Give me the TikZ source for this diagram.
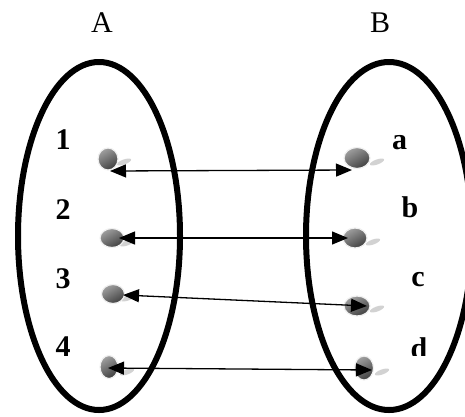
\documentclass[tikz,border=0pt]{standalone}
\usepackage{fontspec}
\setmainfont{Liberation Serif}
\usetikzlibrary{arrows.meta,shapes.geometric}
\begin{document}
\begin{tikzpicture}[x=1pt,y=-1pt,
  setring/.style={draw=black,line width=6pt},
  lbl/.style={inner sep=0pt,font=\fontsize{30}{36}\selectfont\bfseries},
  title/.style={inner sep=0pt,font=\fontsize{30}{36}\selectfont},
  dot/.style={ellipse,inner sep=0pt,draw=gray!12,line width=1.2pt,
    shading=axis,top color=gray!75,bottom color=black!75,shading angle=30},
  shad/.style={ellipse,inner sep=0pt,minimum width=15pt,minimum height=5pt,
    fill=gray!35,rotate=20},
  link/.style={line width=1.3pt,{Triangle[length=16pt,width=13pt]}-{Triangle[length=16pt,width=13pt]}}
]
\useasboundingbox (0,0) rectangle (465,416);
\clip (0,0) rectangle (465,416);
% sets
\node[title] (A) at (102,23) {A};
\node[title] (B) at (380,23) {B};
\draw[setring] (99,236) ellipse [x radius=81, y radius=174];
\draw[setring] (389,236) ellipse [x radius=83, y radius=174];
% labels
\node[lbl] (n1) at (63,140) {1};
\node[lbl] (n2) at (63,210) {2};
\node[lbl] (n3) at (63,279) {3};
\node[lbl] (n4) at (63,347) {4};
\node[lbl] (la) at (399.5,142.5) {a};
\node[lbl] (lb) at (410,207.5) {b};
\node[lbl] (lc) at (418,280) {c};
\begin{scope}
  \clip (400,330) rectangle (440,355.5);
  \node[lbl,anchor=north] (ld) at (419,337) {d};
\end{scope}
% shadows
\node[shad] (s1) at (124,162) {};
\node[shad] (s2) at (127,243) {};
\node[shad] (s3) at (128,298) {};
\node[shad] (s4) at (127,372) {};
\node[shad] (sa) at (377,162) {};
\node[shad] (sb) at (373,242) {};
\node[shad] (sc) at (377,309) {};
\node[shad] (sd) at (382,372) {};
% dots
\node[dot,minimum width=20pt,minimum height=22pt] (d1) at (108,159) {};
\node[dot,minimum width=24pt,minimum height=19pt] (d2) at (112,238) {};
\node[dot,minimum width=23pt,minimum height=19pt] (d3) at (113,294) {};
\node[dot,minimum width=18pt,minimum height=23pt] (d4) at (109,367) {};
\node[dot,minimum width=26pt,minimum height=21pt] (da) at (357,158) {};
\node[dot,minimum width=24pt,minimum height=20pt] (db) at (355,238) {};
\node[dot,minimum width=26pt,minimum height=20pt] (dc) at (357,306) {};
\node[dot,minimum width=19pt,minimum height=24pt] (dd) at (364,368) {};
% arrow ends
\coordinate (e1) at ([shift={(2,12)}]d1.center);
\coordinate (ea) at ([shift={(-5,12)}]da.center);
\coordinate (e2) at ([shift={(7,0)}]d2.center);
\coordinate (eb) at ([shift={(-7,0)}]db.center);
\coordinate (e3) at ([shift={(10,1)}]d3.center);
\coordinate (ec) at ([shift={(10,0)}]dc.center);
\coordinate (e4) at ([shift={(-1,1)}]d4.center);
\coordinate (ed) at ([shift={(8,2)}]dd.center);
% connectors
\draw[link] (e1) -- (ea);
\draw[link] (e2) -- (eb);
\draw[link] (e3) -- (ec);
\draw[link] (e4) -- (ed);
\end{tikzpicture}
\end{document}
